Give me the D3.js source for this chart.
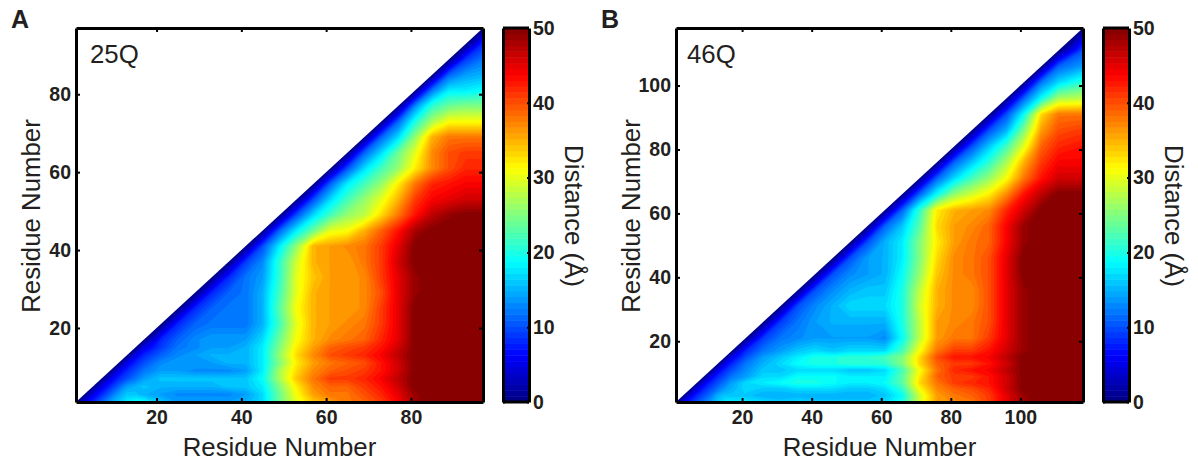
<!DOCTYPE html>
<html>
<head>
<meta charset="utf-8">
<script src="https://cdn.jsdelivr.net/npm/d3@7"></script>
<style>
  body { margin: 0; background: #fff; }
  text { font-family: "Liberation Sans", Arial, sans-serif; fill: #231f20; }
  .tick text { font-size: 19.5px; font-weight: bold; }
  .axis-text { font-size: 25.8px; }
  .domain { stroke: #000; stroke-width: 3px; }
  .tick line { stroke: #000; stroke-width: 2px; }
</style>
</head>
<body>
<svg id="chart" width="1198" height="460"></svg>
<script>
const residuesA = [1,3,5,7,9,11,13,15,17,21,25,29,33,37,41,45,49,53,57,61,65,69,73,77,81,85,89,93,97];
const distancesA = [
  [0,5,8,11,14,16,18,19,19,16,14,14,14,14,15,17,24,30,34,36,38,39,41,44,49,50,50,50,50],
  [0,5,8,11,14,16,16,15,14,13,13,13,13,14,17,24,31,36,38,38,40,42,45,49,50,50,50,50],
  [0,5,8,11,14,15,16,15,15,15,15,16,16,18,25,32,37,39,39,41,43,46,50,50,50,50,50],
  [0,5,8,10,12,14,16,16,16,16,16,16,19,27,34,38,41,41,42,44,47,50,50,50,50,50],
  [0,5,8,10,12,14,14,13,13,13,14,18,27,33,37,39,40,41,43,46,50,50,50,50,50],
  [0,5,8,10,13,14,14,14,15,15,18,25,32,36,38,39,40,43,46,50,50,50,50,50],
  [0,5,8,11,13,14,15,15,15,18,26,33,37,40,41,42,44,47,50,50,50,50,50],
  [0,5,9,12,13,14,14,15,18,25,32,36,39,40,41,43,46,50,50,50,50,50],
  [0,8,11,13,14,14,14,17,24,31,35,37,38,39,42,45,50,50,50,50,50],
  [0,8,11,12,12,12,15,22,30,35,36,37,38,41,45,50,50,50,50,50],
  [0,8,11,12,12,15,23,31,35,36,36,37,41,45,50,50,50,50,50],
  [0,8,11,12,15,22,30,35,36,36,37,40,45,49,50,50,50,50],
  [0,8,12,14,21,30,34,36,36,37,41,45,49,50,50,50,50],
  [0,9,13,21,29,35,36,36,38,41,46,50,50,50,50,50],
  [0,10,18,26,35,36,37,38,41,45,50,50,50,50,50],
  [0,11,18,24,30,31,35,39,43,48,50,50,50,50],
  [0,10,17,22,26,28,33,38,43,47,49,50,50],
  [0,10,17,22,26,30,35,41,44,45,46,46],
  [0,11,18,22,26,32,38,42,43,44,44],
  [0,10,17,22,26,32,37,40,42,42],
  [0,11,17,24,30,37,40,41,41],
  [0,11,17,26,35,38,38,38],
  [0,11,20,27,31,31,31],
  [0,13,21,24,25,25],
  [0,12,18,18,19],
  [0,11,14,15],
  [0,9,12],
  [0,8],
  [0]
];

const residuesB = [1,3,5,7,9,11,13,15,17,21,26,31,36,41,46,51,56,61,66,71,76,81,86,91,96,101,106,111,118];
const distancesB = [
  [0,5,8,10,12,14,16,18,18,18,17,16,17,16,16,16,16,17,20,29,36,37,38,41,45,49,50,50,50],
  [0,5,8,10,12,15,16,16,16,15,15,15,15,15,15,15,16,19,29,36,38,39,41,45,49,50,50,50],
  [0,5,8,10,12,14,15,17,16,16,17,17,17,16,16,17,21,31,37,39,40,42,46,50,50,50,50],
  [0,5,8,10,12,14,17,18,19,20,20,19,18,18,19,23,33,38,41,42,43,46,50,50,50,50],
  [0,5,8,10,12,14,17,17,19,19,19,18,18,18,23,32,39,41,41,43,46,50,50,50,50],
  [0,5,8,10,13,16,16,17,17,17,16,16,17,22,31,38,42,43,44,47,50,50,50,50],
  [0,5,8,12,15,17,19,20,20,21,21,21,25,33,39,41,41,43,46,50,50,50,50],
  [0,5,10,14,16,18,20,20,21,21,22,25,33,40,43,43,44,47,50,50,50,50],
  [0,8,12,14,16,17,16,17,17,17,22,31,38,41,41,43,46,49,50,50,50],
  [0,9,12,13,14,14,14,14,13,19,28,36,38,38,41,45,49,50,50,50],
  [0,9,12,14,15,15,15,15,20,28,36,37,38,40,45,49,50,50,50],
  [0,10,13,15,17,17,17,20,29,35,37,37,40,45,49,50,50,50],
  [0,10,13,15,16,16,20,28,35,37,37,40,45,49,50,50,50],
  [0,10,13,14,15,19,26,34,37,38,40,45,50,50,50,50],
  [0,10,14,15,18,25,33,37,38,40,45,50,50,50,50],
  [0,10,15,18,25,32,36,38,39,44,49,50,50,50],
  [0,11,16,23,33,36,37,39,44,49,50,50,50],
  [0,11,21,32,35,36,37,42,46,50,50,50],
  [0,11,19,26,29,32,37,43,47,50,50],
  [0,11,17,22,26,31,38,43,46,46],
  [0,11,16,21,27,35,41,44,44],
  [0,10,16,22,30,39,42,43],
  [0,10,15,25,36,40,41],
  [0,10,19,33,38,38],
  [0,11,19,27,28],
  [0,12,17,21],
  [0,11,14],
  [0,10],
  [0]
];

const ticksA = [20, 40, 60, 80];
const ticksB = [20, 40, 60, 80, 100];
const colorbarTicks = [0, 10, 20, 30, 40, 50];

// Jet colormap with 64 levels over 0-50 A
const levels = 64, maxDistance = 50;
const jet = d3.scaleLinear()
    .domain([0, 0.125, 0.375, 0.625, 0.875, 1])
    .range(["#000080", "#0000ff", "#00ffff", "#ffff00", "#ff0000", "#800000"]);
const levelValues = d3.range(levels).map(k => k * maxDistance / levels);
const levelColor = k => jet((k + 0.5) / levels);

const svg = d3.select("#chart");

function drawPanel(opts) {
    var x = d3.scaleLinear().domain(opts.domain).range([opts.left, opts.left + 407]);
    var y = d3.scaleLinear().domain(opts.domain).range([402, 28]);
    var n = opts.residues.length;

    // Distance maps are symmetric, so fill in the other half for the contour grid
    var grid = new Array(n * n);
    opts.distances.forEach(function (row, i) {
        row.forEach(function (v, k) {
            grid[i * n + i + k] = v;
            grid[(i + k) * n + i] = v;
        });
    });

    // contour coordinates sit half a cell off the samples
    var gridToResidue = d3.scaleLinear()
        .domain(d3.range(n).map(i => i + 0.5))
        .range(opts.residues);
    var path = d3.geoPath(d3.geoTransform({
        point: function (a, b) {
            this.stream.point(x(gridToResidue(a)), y(gridToResidue(b)));
        }
    }));

    var clipId = "clip-" + opts.name;
    var lo = opts.domain[0], hi = opts.domain[1];
    svg.append("clipPath").attr("id", clipId)
        .append("path")
        .attr("d", d3.line()([[x(lo), y(lo)], [x(hi), y(lo)], [x(hi), y(hi)]]) + "Z");

    var contours = d3.contours().size([n, n]).thresholds(levelValues);
    svg.append("g")
        .attr("clip-path", "url(#" + clipId + ")")
        .selectAll("path")
        .data(contours(grid))
        .enter().append("path")
        .attr("d", path)
        .attr("fill", (d, k) => levelColor(k));

    // Axes, boxed with inward ticks on all four sides
    svg.append("g").attr("transform", "translate(0,402)")
        .call(d3.axisBottom(x).tickValues(opts.ticks).tickSizeInner(-4).tickSizeOuter(0).tickPadding(8));
    svg.append("g").attr("transform", "translate(0,28)")
        .call(d3.axisTop(x).tickValues(opts.ticks).tickSizeInner(-4).tickSizeOuter(0).tickFormat(""));
    svg.append("g").attr("transform", "translate(" + x(lo) + ",0)")
        .call(d3.axisLeft(y).tickValues(opts.ticks).tickSizeInner(-4).tickSizeOuter(0).tickPadding(5));
    svg.append("g").attr("transform", "translate(" + x(hi) + ",0)")
        .call(d3.axisRight(y).tickValues(opts.ticks).tickSizeInner(-4).tickSizeOuter(0).tickFormat(""));

    // Colorbar
    var cbLeft = opts.left + 427, cbRight = cbLeft + 26;
    var c = d3.scaleLinear().domain([0, maxDistance]).range([402, 28]);
    svg.append("g").selectAll("rect")
        .data(levelValues)
        .enter().append("rect")
        .attr("x", cbLeft)
        .attr("width", cbRight - cbLeft)
        .attr("y", d => c(d + maxDistance / levels))
        .attr("height", c(0) - c(maxDistance / levels) + 0.5)
        .attr("fill", (d, k) => levelColor(k));
    svg.append("g").attr("transform", "translate(" + cbLeft + ",0)")
        .call(d3.axisLeft(c).tickValues(colorbarTicks).tickSizeInner(-2).tickSizeOuter(0).tickFormat(""));
    svg.append("g").attr("transform", "translate(" + cbRight + ",0)")
        .call(d3.axisRight(c).tickValues(colorbarTicks).tickSizeInner(-2).tickSizeOuter(0).tickPadding(4));
    svg.append("line").attr("x1", cbLeft).attr("x2", cbRight).attr("y1", 28).attr("y2", 28)
        .attr("stroke", "#000").attr("stroke-width", 3);
    svg.append("line").attr("x1", cbLeft).attr("x2", cbRight).attr("y1", 402).attr("y2", 402)
        .attr("stroke", "#000").attr("stroke-width", 3);

    // Labels
    svg.append("text").attr("class", "axis-text")
        .attr("x", opts.left + 203.5).attr("y", 456)
        .style("text-anchor", "middle").text("Residue Number");
    svg.append("text").attr("class", "axis-text")
        .attr("transform", "translate(" + (opts.left - 36) + ",216) rotate(-90)")
        .style("text-anchor", "middle").text("Residue Number");
    svg.append("text").attr("class", "axis-text")
        .attr("transform", "translate(" + (opts.left + 489) + ",216) rotate(90)")
        .style("text-anchor", "middle").text("Distance (Å)");
    svg.append("text").attr("class", "axis-text")
        .attr("x", opts.left + opts.insetDx).attr("y", 63).text(opts.inset);
    svg.append("text")
        .attr("x", opts.letterX).attr("y", 28)
        .style("font-size", "25px").style("font-weight", "bold").text(opts.letter);
}

drawPanel({ name: "a", left: 76, domain: [1, 97], residues: residuesA, distances: distancesA,
    ticks: ticksA, inset: "25Q", insetDx: 14, letter: "A", letterX: 11 });
drawPanel({ name: "b", left: 676, domain: [1, 118], residues: residuesB, distances: distancesB,
    ticks: ticksB, inset: "46Q", insetDx: 11, letter: "B", letterX: 601 });
</script>
</body>
</html>
